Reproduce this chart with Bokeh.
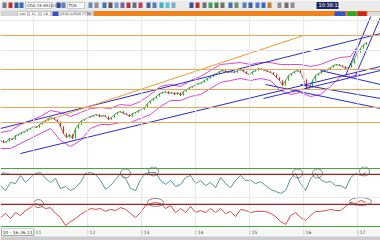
import pandas as pd
from bokeh.plotting import figure
from bokeh.layouts import column
from bokeh.models import Range1d, ColumnDataSource, Span, Label, BoxAnnotation
from bokeh.embed import file_html
from bokeh.resources import INLINE
from bokeh.core.properties import value

# ---------------- data ----------------
START = pd.Timestamp("2010-05-22")
END = pd.Timestamp("2017-06-04")

# index level (close), one value per ~20 days
close = [26, 24, 25, 28, 27, 31, 32, 34, 35, 37,
         38, 40, 39, 42, 44, 46, 48, 49, 47, 45,
         40, 33, 29, 32, 28, 38, 42, 46, 47, 49,
         50, 51, 52, 50, 51, 50, 47, 49, 52, 54,
         55, 53, 52, 50, 53, 54, 56, 57, 59, 63,
         66, 68, 70, 73, 74, 75, 73, 74, 72, 74,
         71, 75, 77, 79, 80, 82, 83, 84, 86, 88,
         90, 92, 93, 95, 96, 95, 94, 95, 94, 96,
         97, 95, 93, 92, 95, 96, 98, 97, 96, 95,
         94, 92, 89, 86, 81, 86, 91, 93, 95, 96,
         94, 87, 78, 79, 86, 91, 93, 95, 96, 97,
         99, 101, 102, 101, 100, 98, 99, 103, 108, 114,
         118, 122, 124]

# Bollinger bands, one value per ~68 days
band_upper = [34, 36, 42, 46, 50, 56, 54, 50, 54, 58, 59, 58, 62, 61, 65, 72, 80, 82, 80,
              86, 90, 96, 102, 103, 104, 102, 104, 104, 102, 102, 102, 100, 102, 106, 109, 110, 124]
band_lower = [18, 18, 23, 28, 33, 38, 26, 20, 26, 38, 42, 42, 44, 44, 48, 52, 60, 66, 66,
              70, 72, 78, 84, 86, 88, 86, 88, 86, 76, 72, 74, 70, 72, 80, 90, 90, 92]

# oscillators, one value per ~34 days
stoch = [41, 24, 52, 48, 76, 52, 69, 83, 86, 66, 52, 66, 31, 38, 24, 34, 52, 83, 86, 79,
         59, 28, 41, 62, 83, 66, 31, 24, 62, 83, 86, 86, 59, 45, 59, 38, 45, 69, 76, 48,
         59, 41, 52, 34, 69, 48, 34, 59, 76, 59, 59, 48, 55, 41, 28, 21, 14, 24, 66, 83,
         48, 24, 66, 83, 62, 52, 55, 41, 41, 31, 69, 83, 76, 86]
rsi = [38, 52, 34, 55, 45, 62, 72, 86, 79, 69, 72, 52, 38, 10, 24, 34, 48, 59, 69, 66,
       69, 59, 66, 62, 72, 66, 52, 38, 55, 79, 86, 90, 86, 69, 79, 55, 69, 55, 76, 55,
       62, 55, 69, 55, 69, 52, 59, 41, 66, 62, 55, 59, 59, 59, 52, 41, 24, 14, 45, 55,
       38, 28, 45, 59, 59, 62, 66, 62, 62, 76, 90, 86, 97, 90]

year_labels = ["11", "12", "13", "14", "15", "16", "17"]
year_dates = ["2011-01-01", "2012-01-01", "2013-01-01", "2014-01-01",
              "2015-01-01", "2016-01-01", "2017-01-01"]

support_levels = [131, 97, 77, 59, 44]
grid_levels = [146, 116]

trend_x0 = ["2010-05-22", "2010-10-04", "2015-04-05", "2015-04-18", "2015-12-11",
            "2016-04-24", "2016-10-11", "2016-12-17", "2011-02-17"]
trend_y0 = [38, 13, 68, 82, 82, 96, 91, 91, 44]
trend_x1 = ["2017-06-04", "2017-06-04", "2017-06-04", "2017-06-04", "2017-06-04",
            "2017-06-04", "2017-04-11", "2017-06-18", "2016-01-01"]
trend_y1 = [133, 100, 96, 58, 68, 82, 154, 154, 131]
trend_color = ["#2b2bd0"] * 8 + ["#f29a2e"]

stoch_marks_x = ["2012-09-13", "2013-03-22", "2015-11-21", "2016-04-04", "2017-02-16"]
stoch_marks_y = [83, 90, 83, 83, 90]
stoch_marks_w = [10, 10, 10, 10, 10]
rsi_marks_x = ["2011-02-03", "2013-04-04", "2017-01-20"]
rsi_marks_y = [86, 90, 93]
rsi_marks_w = [10, 16, 22]

# ---------------- helpers ----------------
price_dates = pd.date_range(START, periods=len(close), freq="487h")
band_dates = pd.date_range(START, periods=len(band_upper), freq="1623h")
osc_dates = pd.date_range(START, periods=len(stoch), freq="812h")
ydates = pd.to_datetime(year_dates)
xr = Range1d(START, END)
FONT = "DejaVu Sans"


def ms(ts):
    return pd.Timestamp(ts).value / 1e6


def panel(h, yr, bg="white"):
    f = figure(width=380, height=h, x_range=xr, y_range=yr, x_axis_type="datetime",
               x_axis_location=None, y_axis_location=None,
               toolbar_location=None, output_backend="svg", min_border=0)
    f.grid.visible = False
    f.outline_line_color = None
    f.background_fill_color = bg
    f.border_fill_color = bg
    for d in ydates:
        f.add_layout(Span(location=ms(d), dimension="height", line_color="#e6e6e6", line_width=1))
    return f


# ---------------- top chrome ----------------
top = figure(width=380, height=16, x_range=Range1d(0, 380), y_range=Range1d(16, 0),
             x_axis_location=None, y_axis_location=None, toolbar_location=None,
             output_backend="svg", min_border=0)
top.grid.visible = False
top.outline_line_color = None
top.background_fill_color = "#ebebeb"
top.border_fill_color = "#ebebeb"
icon_x = [2, 8, 14, 19, 56, 61, 88, 94, 102, 108, 114, 120, 126, 132, 138, 146, 152, 159, 165,
          171, 189, 195, 202, 208, 214, 220, 228, 234, 242, 248, 255, 261, 267, 277, 284, 290]
icon_c = ["#7a7a7a", "#c03030", "#3060a0", "#3070c0", "#3050b0", "#6080c0", "#6a8ab0", "#909090",
          "#4070b0", "#5a5a5a", "#70a0d0", "#8060a0", "#a04040", "#607080", "#c04060", "#4060a0",
          "#5080c0", "#40b0d0", "#60c0e0", "#80b0d0", "#3050a0", "#c03030", "#707070", "#40a060",
          "#508050", "#707070", "#4070b0", "#709070", "#5080c0", "#4060a0", "#4a7ad0", "#3a6ac0",
          "#c08030", "#909090", "#707070", "#909090"]
top.quad(left=icon_x, right=[v + 4 for v in icon_x], top=[2] * len(icon_x), bottom=[7.5] * len(icon_x),
         fill_color=icon_c, line_color=None)
top.quad(left=[25, 67], right=[51, 84], top=[2, 2], bottom=[8, 8], fill_color="white", line_color="#a0a0a0",
         line_width=0.5)
top.text(x=[26, 68], y=[7.3, 7.3], text=["ODA-1S-8910 C-E", "TOA"], text_font_size="4px",
         text_font=value(FONT), text_color="#333333")
top.quad(left=[316], right=[338], top=[1.5], bottom=[8.5], fill_color="#1b2a5e", line_color=None)
top.text(x=[318], y=[7.4], text=["10:38:11"], text_font_size="5px", text_font=value(FONT),
         text_color="white")
top.quad(left=[0], right=[93], top=[10], bottom=[16], fill_color="#d6d6d6", line_color=None)
top.quad(left=[93], right=[380], top=[10.5], bottom=[15.5], fill_color="#f0821a", line_color=None)
top.quad(left=[17, 29, 41, 61], right=[27, 38, 50, 87], top=[11, 11, 11, 11], bottom=[15.5] * 4,
         fill_color="white", line_color="#a0a0a0", line_width=0.5)
top.quad(left=[52], right=[58], top=[11], bottom=[15.5], fill_color="#4050c0", line_color=None)
top.text(x=[19, 31, 43, 62], y=[15, 15, 15, 15], text=["con", "1L", "LB", "EXCLUSIVE FTSE"],
         text_font_size="3.5px", text_font=value(FONT), text_color="#333333")
top.quad(left=[334, 347, 357, 367], right=[345, 356, 366, 380], top=[11] * 4, bottom=[15.5] * 4,
         fill_color=["#3355cc", "#22aa22", "#cc2222", "#dcdcdc"], line_color=None)

# ---------------- main price panel ----------------
main = panel(150, Range1d(0, 150))
for lv in grid_levels:
    main.add_layout(Span(location=lv, dimension="width", line_color="#e6e6e6", line_width=1))
for lv in support_levels:
    main.add_layout(Span(location=lv, dimension="width", line_color="#eda65a", line_width=1))

main.line(band_dates, band_upper, line_color="#dd44dd", line_width=1)
main.line(band_dates, band_lower, line_color="#dd44dd", line_width=1)

opens = [close[0]] + close[:-1]
src = ColumnDataSource(dict(
    x=price_dates, close=close, open=opens,
    top=[max(a, b) + 0.3 for a, b in zip(opens, close)],
    bottom=[min(a, b) - 0.3 for a, b in zip(opens, close)],
    color=["#28b828" if c >= o else "#e02424" for o, c in zip(opens, close)],
))
main.line("x", "close", source=src, line_color="#303030", line_width=0.6)
main.vbar(x="x", top="top", bottom="bottom", width=8 * 24 * 3600 * 1000, source=src,
          fill_color="color", line_color=None)

tsrc = ColumnDataSource(dict(x0=pd.to_datetime(trend_x0), y0=trend_y0,
                             x1=pd.to_datetime(trend_x1), y1=trend_y1, c=trend_color))
main.segment(x0="x0", y0="y0", x1="x1", y1="y1", line_color="c", line_width=1, source=tsrc)

# ---------------- oscillator 1 ----------------
osc1 = panel(31, Range1d(0, 107))
osc1.add_layout(Span(location=100, dimension="width", line_color="#3caa3c", line_width=1))
osc1.add_layout(Span(location=80, dimension="width", line_color="#9b2222", line_width=1.2))
osc1.line(osc_dates, stoch, line_color="#3f8a8a", line_width=0.9)
osc1.ellipse(x=pd.to_datetime(stoch_marks_x), y=stoch_marks_y, width=stoch_marks_w, height=9,
             width_units="screen", height_units="screen", fill_color=None,
             line_color="#555555", line_width=0.7)
osc1.add_layout(Label(x=1, y=22, x_units="screen", y_units="screen", text="Stoc",
                      text_font_size="4px", text_font=FONT, text_color="#555555"))

# ---------------- oscillator 2 ----------------
osc2 = panel(31, Range1d(0, 107))
osc2.add_layout(Span(location=83, dimension="width", line_color="#9b2222", line_width=1.2))
osc2.add_layout(Span(location=7, dimension="width", line_color="#3caa3c", line_width=1))
osc2.add_layout(Span(location=107, dimension="width", line_color="#d8d8d8", line_width=1))
osc2.line(osc_dates, rsi, line_color="#e23030", line_width=0.9)
osc2.ellipse(x=pd.to_datetime(rsi_marks_x), y=rsi_marks_y, width=rsi_marks_w, height=8,
             width_units="screen", height_units="screen", fill_color=None,
             line_color="#555555", line_width=0.7)

# ---------------- bottom axis strip ----------------
bot = panel(12, Range1d(0, 12), bg="#f6f6f6")
bot.add_layout(BoxAnnotation(top=4, fill_color="#cccccc", fill_alpha=1, line_color=None))
bot.segment(x0=ydates, y0=[6] * len(ydates), x1=ydates, y1=[10] * len(ydates),
            line_color="#444444", line_width=0.7)
bot.text(x=ydates, y=[6.2] * len(ydates), text=year_labels, x_offset=2, text_font_size="4.5px",
         text_font=value(FONT), text_color="#444444")
bot.add_layout(Label(x=1, y=5, x_units="screen", y_units="screen", text="10 - 16:26:11",
                     text_font_size="4.5px", text_font=FONT, text_color="#222222",
                     background_fill_color="white", border_line_color="#555555",
                     border_line_width=0.5, padding=1))

layout = column(top, main, osc1, osc2, bot, spacing=0)
open("out.html", "w").write(file_html(layout, INLINE))
